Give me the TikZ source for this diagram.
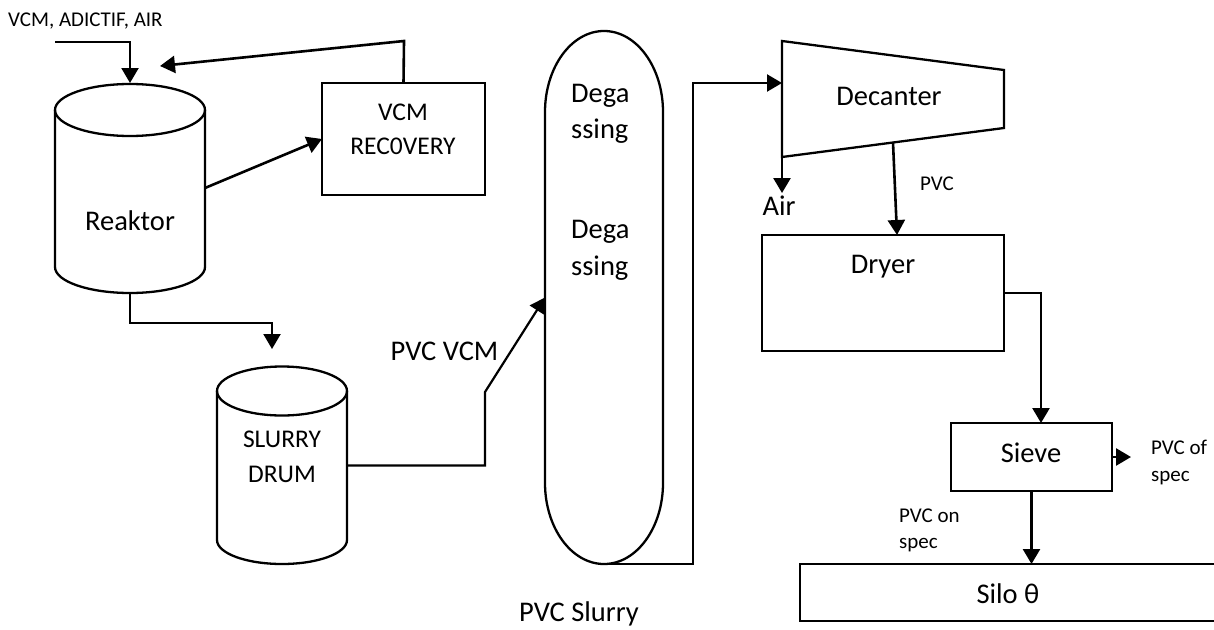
\documentclass[tikz,border=0pt]{standalone}
\usepackage{fontspec}
\setmainfont{Carlito}
\usetikzlibrary{arrows.meta}
\begin{document}
\begin{tikzpicture}[x=1pt,y=-1pt,
  ghost/.style={inner sep=0pt, outer sep=0pt},
  boxnode/.style={draw, line width=2.3pt, inner sep=0pt, outer sep=0pt},
  ln/.style={line width=2.3pt},
  arr/.style={line width=2.6pt, -{Triangle[length=15pt,width=17pt]}},
  big/.style={font=\fontsize{28.5}{34}\selectfont, inner sep=0pt},
  mid/.style={font=\fontsize{25.5}{30}\selectfont, inner sep=0pt},
  small/.style={font=\fontsize{21}{25}\selectfont, inner sep=0pt},
]
\useasboundingbox[fill=white] (0,0) rectangle (1214,629);

% ---------- Reaktor ----------
\node[ghost, minimum width=150pt, minimum height=210pt] (rea) at (130,188) {};
\draw[ln] (130,110) ellipse [x radius=75, y radius=26];
\draw[ln] (55,110) -- (55,267) arc[start angle=180, end angle=0, x radius=75, y radius=26] -- (205,110);
\node[big, anchor=base] (reatxt) at (130,230) {Reaktor};

% ---------- VCM recovery ----------
\node[boxnode, minimum width=163pt, minimum height=112pt] (rec) at (403.5,139) {};
\node[mid, anchor=base] (rec1) at (403,120) {VCM};
\node[mid, anchor=base] (rec2) at (403,154) {REC0VERY};

% ---------- Slurry drum ----------
\node[ghost, minimum width=130pt, minimum height=197pt] (drum) at (282,465.5) {};
\draw[ln] (282,391) ellipse [x radius=65, y radius=24.5];
\draw[ln] (217,391) -- (217,540) arc[start angle=180, end angle=0, x radius=65, y radius=24] -- (347,391);
\node[mid, anchor=base] (drum1) at (282,447) {SLURRY};
\node[mid, anchor=base] (drum2) at (282,482) {DRUM};

% ---------- Degassing column ----------
\node[ghost, minimum width=118pt, minimum height=533pt] (col) at (604,297.5) {};
\draw[ln] (545,112) -- (545,483) arc[start angle=180, end angle=0, x radius=59, y radius=81]
  -- (663,112) arc[start angle=0, end angle=-180, x radius=59, y radius=81] -- cycle;
\node[big, anchor=base west] (deg1) at (571,102) {Dega};
\node[big, anchor=base west] (deg2) at (571,138) {ssing};
\node[big, anchor=base west] (deg3) at (571,238) {Dega};
\node[big, anchor=base west] (deg4) at (571,275) {ssing};

% ---------- Decanter ----------
\node[ghost, minimum width=222pt, minimum height=116pt] (dec) at (893,99) {};
\coordinate (dTL) at (782,41);
\coordinate (dTR) at (1004,70);
\coordinate (dBR) at (1004,128);
\coordinate (dBL) at (782,157);
\draw[ln] (dTL) -- (dTR) -- (dBR) -- (dBL) -- cycle;
\node[big, anchor=base] (dectxt) at (889,105) {Decanter};

% ---------- Dryer, Sieve, Silo ----------
\node[boxnode, minimum width=242pt, minimum height=116pt] (dry) at (883,293) {};
\node[big, anchor=base] (drytxt) at (883,273) {Dryer};
\node[boxnode, minimum width=161pt, minimum height=68pt] (sieve) at (1031.5,457) {};
\node[big, anchor=base] (sievetxt) at (1031,462) {Sieve};
\node[ghost, minimum width=414pt, minimum height=57pt] (silo) at (1007,592.5) {};
\draw[ln] (1214,564) -| (800,621) -- (1214,621);
\node[big, anchor=base] (silotxt) at (1008,603) {Silo θ};

% ---------- Labels ----------
\node[small, anchor=base west] (feed) at (8,26) {VCM, ADICTIF, AIR};
\node[big, anchor=base] (pvcvcm) at (444.5,360) {PVC VCM};
\node[big, anchor=base] (pvcslurry) at (579,621) {PVC Slurry};
\node[big, anchor=base] (airtxt) at (779,215) {Air};
\node[small, anchor=base] (pvctxt) at (937,190) {PVC};
\node[small, anchor=base west] (off1) at (1151,454) {PVC of};
\node[small, anchor=base west] (off2) at (1151,481) {spec};
\node[small, anchor=base west] (on1) at (899,522) {PVC on};
\node[small, anchor=base west] (on2) at (899,548) {spec};

% ---------- Connectors ----------
\coordinate (feedin) at (55,42);
\draw[arr, line width=2.2pt] (feedin) -| (rea.north);

\coordinate (recup) at (404,41);
\coordinate (recyc) at (160,66);
\draw[arr] (rec.north) -- (recup) -- (recyc);

\draw[arr] (rea.east) -- (rec.west);

\coordinate (reabend) at (130,323);
\coordinate (drumin) at (272,349);
\draw[arr, line width=2.2pt] (rea.south) -- (reabend) -| (drumin);

\coordinate (pvcbend) at (485,392);
\draw[arr, line width=2.2pt] (drum.east) -| (pvcbend) -- (col.west);

\coordinate (colbend) at (693,83);
\coordinate (decin) at (782,83);
\draw[arr, line width=2.2pt] (col.south) -| (colbend) -- (decin);

\coordinate (airsrc) at (782,100);
\coordinate (airtip) at (782,193);
\draw[arr] (airsrc) -- (airtip);

\coordinate (pvcsrc) at (893,142.5);
\coordinate (dryin) at (897,235);
\draw[arr] (pvcsrc) -- (dryin);

\coordinate (sievein) at (1041,423);
\draw[arr] (dry.east) -| (sievein);

\coordinate (sieveout) at (1131,457);
\draw[arr] (sieve.east) -- (sieveout);

\draw[arr] (sieve.south) -- (sieve.south |- silo.north);
\end{tikzpicture}
\end{document}
